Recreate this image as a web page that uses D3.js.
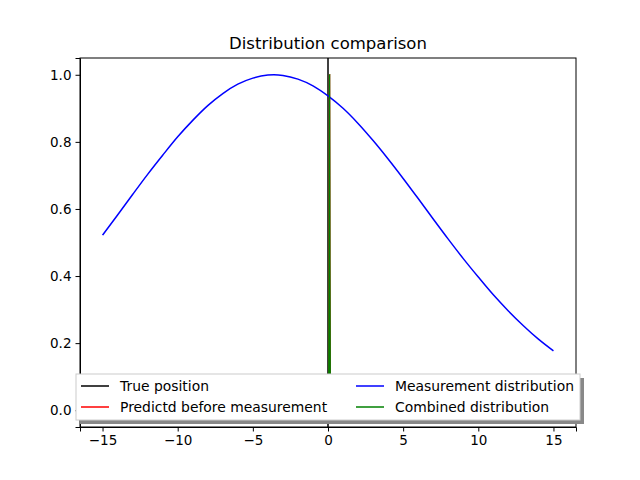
<!DOCTYPE html>
<html lang="en">
<head>
<meta charset="utf-8">
<style>
  body { margin: 0; background: #fff; }
  text { font-family: "DejaVu Sans", sans-serif; }
  .axis text { font-size: 13.5px; fill: #000; }
  .axis path, .axis line { stroke: #000; }
</style>
</head>
<body>
<div id="chart"></div>
<script src="https://cdn.jsdelivr.net/npm/d3@7"></script>
<script>
// measurement distribution, read at integer positions
var measX = [-15,-14,-13,-12,-11,-10,-9,-8,-7,-6,-5,-4,-3.6,-3,-2,-1,0,1,2,3,4,5,6,7,8,9,10,11,12,13,14,15];
var measY = [0.522,0.582,0.643,0.703,0.760,0.815,0.864,0.908,0.944,0.972,0.990,0.999,1.0,0.998,0.987,0.967,0.937,0.900,0.855,0.804,0.749,0.691,0.631,0.570,0.510,0.452,0.397,0.344,0.296,0.252,0.212,0.177];
var predX = [0.05, 0.08, 0.1, 0.12, 0.15];
var predY = [0.0, 0.45, 1.0, 0.45, 0.0];
var combX = [0.05, 0.08, 0.1, 0.12, 0.15];
var combY = [0.0, 0.45, 1.0, 0.45, 0.0];
var trueX = [0, 0];
var trueY = [-0.2, 1.2];
var xTicks = [-15, -10, -5, 0, 5, 10, 15];
var yTicks = [0.0, 0.2, 0.4, 0.6, 0.8, 1.0];
var legendLabels = ["True position", "Predictd before measurement", "Measurement distribution", "Combined distribution"];
var legendColors = ["black", "red", "blue", "green"];

var W = 640, H = 480;
var m = {left: 80, right: 64, top: 58, bottom: 53};
var svg = d3.select("#chart").append("svg").attr("width", W).attr("height", H);

var x = d3.scaleLinear().domain([-16.5, 16.5]).range([m.left, W - m.right]);
var y = d3.scaleLinear().domain([-0.05, 1.05]).range([H - m.bottom, m.top]);

svg.append("clipPath").attr("id", "clip").append("rect")
  .attr("x", m.left).attr("y", m.top)
  .attr("width", W - m.left - m.right).attr("height", H - m.top - m.bottom);

var line = d3.line().curve(d3.curveMonotoneX).x(function(d){ return x(d[0]); }).y(function(d){ return y(d[1]); });
function zip(a, b){ return a.map(function(v, i){ return [v, b[i]]; }); }

var g = svg.append("g").attr("clip-path", "url(#clip)");
[[trueX, trueY, "black"], [predX, predY, "red"], [measX, measY, "blue"], [combX, combY, "green"]]
  .forEach(function(s){
    g.append("path").datum(zip(s[0], s[1])).attr("d", line)
      .attr("fill", "none").attr("stroke", s[2]).attr("stroke-width", 1.5);
  });

svg.append("g").attr("class", "axis")
  .attr("transform", "translate(0," + (H - m.bottom) + ")")
  .call(d3.axisBottom(x).tickValues(xTicks).tickSize(4.5).tickPadding(4)
    .tickFormat(function(d){ return d < 0 ? "\u2212" + (-d) : d; }));
svg.append("g").attr("class", "axis")
  .attr("transform", "translate(" + m.left + ",0)")
  .call(d3.axisLeft(y).tickValues(yTicks).tickSize(4.5).tickPadding(4).tickFormat(d3.format(".1f")));
svg.append("rect").attr("x", m.left).attr("y", m.top)
  .attr("width", W - m.left - m.right).attr("height", H - m.top - m.bottom)
  .attr("fill", "none").attr("stroke", "#000");

svg.append("text").attr("x", (m.left + W - m.right) / 2).attr("y", m.top - 9)
  .attr("text-anchor", "middle").attr("font-size", 16.5).text("Distribution comparison");

// legend
var lg = svg.append("g").attr("transform", "translate(76,374)");
lg.append("rect").attr("x", 4).attr("y", 4).attr("width", 504).attr("height", 46).attr("fill", "#888");
lg.append("rect").attr("width", 504).attr("height", 46).attr("fill", "#fff").attr("stroke", "#ccc");
legendLabels.forEach(function(t, i){
  var cx = i < 2 ? 5 : 280, cy = 12 + (i % 2) * 21;
  lg.append("line").attr("x1", cx).attr("x2", cx + 28).attr("y1", cy).attr("y2", cy)
    .attr("stroke", legendColors[i]).attr("stroke-width", 1.5);
  lg.append("text").attr("x", cx + 39).attr("y", cy + 5).attr("font-size", 13.9).text(t);
});
</script>
</body>
</html>
